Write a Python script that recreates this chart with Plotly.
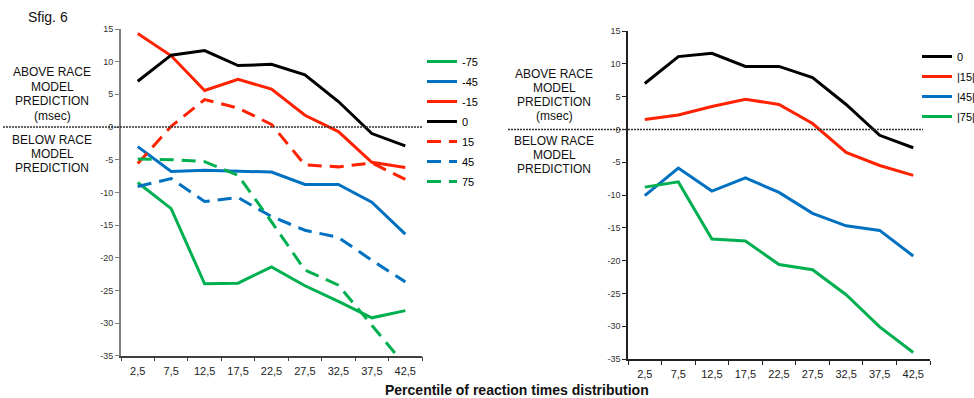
import plotly.graph_objects as go

percentiles = ["2,5", "7,5", "12,5", "17,5", "22,5", "27,5", "32,5", "37,5", "42,5"]

# Left panel: SOA series (msec)
left_m75 = [-8.5, -12.5, -24.0, -23.9, -21.4, -24.3, -26.7, -29.2, -28.1]
left_m45 = [-3.0, -6.8, -6.6, -6.7, -6.9, -8.8, -8.8, -11.5, -16.4]
left_m15 = [14.3, 10.9, 5.6, 7.3, 5.8, 1.8, -0.7, -5.4, -6.2]
left_0 = [7.0, 11.0, 11.7, 9.4, 9.6, 8.0, 3.9, -1.0, -2.9]
left_p15 = [-5.6, 0.1, 4.2, 2.9, 0.4, -5.8, -6.1, -5.5, -8.0]
left_p45 = [-9.1, -7.9, -11.4, -10.8, -13.7, -15.8, -16.9, -20.4, -23.7]
left_p75 = [-4.9, -5.0, -5.3, -7.4, -14.5, -21.9, -24.2, -30.4, -36.5]

# Right panel: absolute SOA series
right_0 = [7.0, 11.1, 11.6, 9.6, 9.6, 7.9, 3.8, -0.9, -2.8]
right_15 = [1.5, 2.2, 3.5, 4.6, 3.8, 0.9, -3.5, -5.5, -7.0]
right_45 = [-10.1, -5.9, -9.4, -7.4, -9.6, -12.8, -14.7, -15.4, -19.3]
right_75 = [-8.8, -8.0, -16.7, -17.0, -20.6, -21.4, -25.2, -30.1, -34.0]

y_ticks = [15, 10, 5, 0, -5, -10, -15, -20, -25, -30, -35]

GREEN = "#00B050"
BLUE = "#0070C0"
RED = "#FF2200"
BLACK = "#000000"
FONT = "Liberation Sans, Arial, sans-serif"
DASH = "14px,8px"

W, H = 974, 398

fig = go.Figure()

left_series = [
    ("-75", left_m75, GREEN, "solid"),
    ("-45", left_m45, BLUE, "solid"),
    ("-15", left_m15, RED, "solid"),
    ("0", left_0, BLACK, "solid"),
    ("15", left_p15, RED, DASH),
    ("45", left_p45, BLUE, DASH),
    ("75", left_p75, GREEN, DASH),
]
for i, (name, vals, col, dash) in enumerate(left_series):
    fig.add_trace(go.Scatter(
        x=percentiles, y=vals, name=name, mode="lines",
        line=dict(color=col, width=3, dash=dash),
        xaxis="x", yaxis="y", legend="legend", legendgroup="L%d" % i,
    ))

right_series = [
    ("0", right_0, BLACK),
    ("|15|", right_15, RED),
    ("|45|", right_45, BLUE),
    ("|75|", right_75, GREEN),
]
for i, (name, vals, col) in enumerate(right_series):
    fig.add_trace(go.Scatter(
        x=percentiles, y=vals, name=name, mode="lines",
        line=dict(color=col, width=3),
        xaxis="x2", yaxis="y2", legend="legend2", legendgroup="R%d" % i,
    ))

def xax(domain, anchor, linecolor):
    return dict(
        domain=domain, anchor=anchor, type="category",
        categoryorder="array", categoryarray=percentiles,
        range=[-0.5, 8.5], tickson="boundaries",
        ticks="outside", ticklen=4, tickcolor=linecolor, tickwidth=1,
        showline=True, linecolor=linecolor, linewidth=1.5,
        showgrid=False, zeroline=False, automargin=False,
        tickfont=dict(size=11, family=FONT, color="#222"),
        ticklabelstandoff=4,
    )

def yax(domain, anchor, linecolor, lw):
    return dict(
        domain=domain, anchor=anchor, range=[-35, 15],
        tickvals=y_ticks, ticktext=[str(v) for v in y_ticks],
        ticks="outside", ticklen=4, tickcolor=linecolor, tickwidth=1,
        showline=True, linecolor=linecolor, linewidth=lw,
        showgrid=False, zeroline=False, automargin=False,
        tickfont=dict(size=9, family=FONT, color="#333"),
    )

fig.update_layout(
    width=W, height=H,
    margin=dict(l=0, r=0, t=0, b=0, autoexpand=False),
    paper_bgcolor="white", plot_bgcolor="white",
    font=dict(family=FONT, color="#000"),
    xaxis=xax([121 / W, 422 / W], "y", "#404040"),
    yaxis=yax([1 - 355.7 / H, 1 - 29 / H], "x", "#808080", 2),
    xaxis2=xax([628 / W, 930 / W], "y2", "#202020"),
    yaxis2=yax([1 - 359 / H, 1 - 31 / H], "x2", "#202020", 1.5),
    showlegend=True,
    legend=dict(x=422 / W, y=1 - 47 / H, xanchor="left", yanchor="top",
                xref="container", yref="container",
                bgcolor="rgba(0,0,0,0)", font=dict(size=11, family=FONT),
                tracegroupgap=1, itemwidth=30),
    legend2=dict(x=917 / W, y=1 - 42 / H, xanchor="left", yanchor="top",
                 xref="container", yref="container",
                 bgcolor="rgba(0,0,0,0)", font=dict(size=11, family=FONT),
                 tracegroupgap=1, itemwidth=30),
)

# dotted zero lines
fig.add_shape(type="line", xref="paper", yref="y", x0=3 / W, x1=423 / W, y0=0, y1=0,
              line=dict(color="#333", width=1.5, dash="2px,1px"))
fig.add_shape(type="line", xref="paper", yref="y2", x0=508 / W, x1=923 / W, y0=0, y1=0,
              line=dict(color="#333", width=1.5, dash="2px,1px"))

def ann(x, y, text, size=12, bold=False, anchor="center"):
    fig.add_annotation(x=x / W, y=1 - y / H, xref="paper", yref="paper",
                       text=("<b>%s</b>" % text) if bold else text, showarrow=False,
                       xanchor=anchor, yanchor="middle",
                       font=dict(size=size, family=FONT, color="#111"))

ann(26, 17, "Sfig. 6", size=14, anchor="left")
for cx, ys in [(52, [72, 87, 101, 116, 140, 154, 168]), (554, [74, 88, 102, 116, 141, 155, 169])]:
    lines = ["ABOVE RACE", "MODEL", "PREDICTION", "(msec)", "BELOW RACE", "MODEL", "PREDICTION"]
    for t, yy in zip(lines, ys):
        ann(cx, yy, t)

ann(517, 390, "Percentile of reaction times distribution", size=14, bold=True)

fig.write_html("out.html", config={"displayModeBar": False},
               post_script="document.body.style.margin='0';document.body.style.overflow='hidden';")
